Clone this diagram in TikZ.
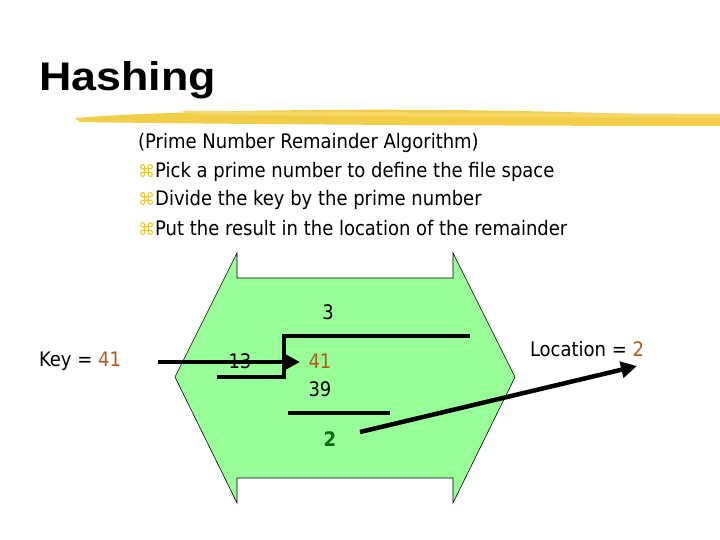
\documentclass[tikz,border=0pt]{standalone}
\usepackage{fontspec}
\setmainfont{DejaVu Sans Condensed}
\newfontfamily\titlefont{Liberation Sans}
\newfontfamily\symfont{DejaVu Sans}
\usetikzlibrary{arrows.meta}
\definecolor{hgreen}{RGB}{152,255,152}
\definecolor{brush}{RGB}{240,198,40}
\definecolor{numbrown}{RGB}{180,90,20}
\definecolor{numgreen}{RGB}{0,110,0}
\newcommand{\bulmark}{{\symfont\color{brush}\fontsize{17pt}{17pt}\selectfont ⌘}}
\tikzset{txt/.style={inner sep=0pt,font=\fontsize{20pt}{24pt}\selectfont},
bul/.style={txt,anchor=west},
thick line/.style={line width=3.5pt},
arr/.style={line width=4.5pt,-{Triangle[length=16pt,width=16pt]}}}
\begin{document}
\begin{tikzpicture}[x=1pt,y=-1pt]
\useasboundingbox (0,0) rectangle (720,540);
\node[anchor=west,inner sep=0pt,xscale=1.12,transform shape,font=\titlefont\bfseries\fontsize{40pt}{44pt}\selectfont] (title) at (39,80) {Hashing};
\fill[brush,opacity=0.85] (75,118) .. controls (200,108) and (500,106) .. (720,118) -- (720,126) .. controls (500,126) and (200,124) .. (80,122) -- cycle;
\fill[brush!70!white] (180,111) -- (720,114) -- (720,118) -- (200,115) -- cycle;
\node[bul] (l0) at (138,143) {(Prime Number Remainder Algorithm)};
\node[bul] (l1) at (138,172) {\bulmark Pick a prime number to define the file space};
\node[bul] (l2) at (138,200) {\bulmark Divide the key by the prime number};
\node[bul] (l3) at (138,228) {\bulmark Put the result in the location of the remainder};
\filldraw[fill=hgreen,draw=black,line width=0.6pt] (237,253) -- (237,278) -- (453,278) -- (453,253) -- (515,377) -- (453,503) -- (453,478) -- (237,478) -- (237,503) -- (175,377) -- cycle;
\node[txt] (three) at (328,312) {3};
\node[txt] (thirteen) at (240,361) {13};
\node[txt,text=numbrown] (fortyone) at (320,361) {41};
\node[txt] (thirtynine) at (320,389) {39};
\node[txt,text=numgreen,font=\bfseries\fontsize{20pt}{24pt}\selectfont] (rem) at (330,439) {2};
\node[txt] (key) at (80,361) {Key = {\color{numbrown}41}};
\node[txt] (loc) at (587,349) {Location = {\color{numbrown}2}};
\draw[thick line] (470,336) -- (284,336) -- (284,377) -- (217,377);
\draw[thick line] (288,413) -- (390,413);
\coordinate (a1) at (158,362);
\coordinate (a2) at (300,362);
\draw[arr] (a1) -- (a2);
\coordinate (b1) at (360,432);
\coordinate (b2) at (637,366);
\draw[arr] (b1) -- (b2);
\end{tikzpicture}
\end{document}
